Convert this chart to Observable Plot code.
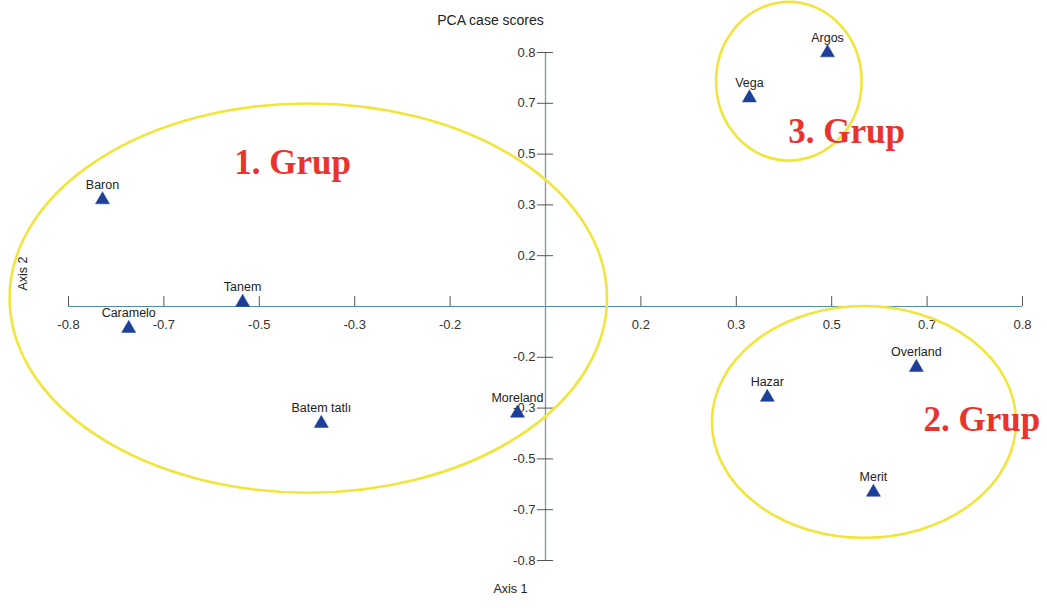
<!DOCTYPE html>
<html><head><meta charset="utf-8">
<script src="https://cdn.jsdelivr.net/npm/d3@7"></script>
<script src="https://cdn.jsdelivr.net/npm/@observablehq/plot@0.6"></script>
<style>body{margin:0;background:#fff} svg{display:block}</style>
</head><body><div id="chart"></div>
<script>
// Cultivars and their PCA case scores
const cultivars = ["Baron","Caramelo","Tanem","Batem tatlı","Moreland","Vega","Argos","Hazar","Overland","Merit"];
const axis1 = [-0.743,-0.699,-0.508,-0.376,-0.047,0.342,0.473,0.372,0.622,0.550];
const axis2 = [0.336,-0.069,0.013,-0.368,-0.336,0.657,0.799,-0.286,-0.192,-0.585];

// Tick positions and the labels printed by the original software
const xTicks = [-0.8,-0.64,-0.48,-0.32,-0.16,0.16,0.32,0.48,0.64,0.8];
const xTickLabels = ["-0.8","-0.7","-0.5","-0.3","-0.2","0.2","0.3","0.5","0.7","0.8"];
const yTicks = [-0.8,-0.64,-0.48,-0.32,-0.16,0.16,0.32,0.48,0.64,0.8];
const yTickLabels = ["-0.8","-0.7","-0.5","-0.3","-0.2","0.2","0.3","0.5","0.7","0.8"];

// Group annotations (ellipses and labels, in data units)
const groupNames = ["1. Grup","2. Grup","3. Grup"];
const groupCx = [-0.397, 0.535, 0.409];
const groupCy = [0.025, -0.365, 0.708];
const groupRx = [0.501, 0.255, 0.122];
const groupRy = [0.613, 0.365, 0.25];
const groupLabelX = [-0.424, 0.732, 0.505];
const groupLabelY = [0.453, -0.358, 0.550];

const points = cultivars.map((name, i) => ({name, x: axis1[i], y: axis2[i]}));
const groups = groupNames.map((name, i) => ({name, cx: groupCx[i], cy: groupCy[i], rx: groupRx[i], ry: groupRy[i], lx: groupLabelX[i], ly: groupLabelY[i]}));

function ellipseMark(data) {
  return (index, scales) => {
    const g = d3.create("svg:g");
    for (const e of data) {
      const cx = scales.x(e.cx), cy = scales.y(e.cy);
      g.append("ellipse")
        .attr("cx", cx).attr("cy", cy)
        .attr("rx", Math.abs(scales.x(e.cx + e.rx) - cx))
        .attr("ry", Math.abs(scales.y(e.cy + e.ry) - cy))
        .attr("fill", "none").attr("stroke", "#f1e53c").attr("stroke-width", 2.6);
    }
    return g.node();
  };
}

const font = "'Liberation Sans', Arial, sans-serif";

const chart = Plot.plot({
  width: 1047,
  height: 608,
  marginLeft: 68,
  marginRight: 25,
  marginTop: 52,
  marginBottom: 48,
  style: {fontFamily: font, background: "#fff", overflow: "visible"},
  x: {domain: [-0.8, 0.8], axis: null},
  y: {domain: [-0.8, 0.8], axis: null},
  marks: [
    // axes through the origin
    Plot.ruleY([0], {x1: -0.8, x2: 0.8, stroke: "#4f8eab", strokeWidth: 1.2}),
    Plot.ruleX([0], {y1: -0.8, y2: 0.8, stroke: "#8c9aa6", strokeWidth: 1.4}),
    Plot.ruleX(xTicks, {x: d => d, y1: 0, y2: 0.0315, stroke: "#555", strokeWidth: 1}),
    Plot.ruleY(yTicks, {y: d => d, x1: -0.0135, x2: 0.0135, stroke: "#555", strokeWidth: 1}),
    Plot.text(xTicks, {x: d => d, y: 0, text: (d, i) => xTickLabels[i], dy: 18, fontSize: 13, fill: "#333"}),
    Plot.text(yTicks, {x: 0, y: d => d, text: (d, i) => yTickLabels[i], dx: -10, textAnchor: "end", fontSize: 13, fill: "#333"}),
    // group ellipses
    ellipseMark(groups),
    // cultivar points
    Plot.dot(points, {x: "x", y: "y", symbol: "triangle", r: 5.2, fill: "#1d3f98", stroke: "#1d3f98", strokeWidth: 0.5}),
    Plot.text(points, {x: "x", y: "y", text: "name", dy: -15, fontSize: 12.5, fill: "#222"}),
    // group labels
    Plot.text(groups, {x: "lx", y: "ly", text: "name", fontSize: 35, fontWeight: "bold", fill: "#e8342c", fontFamily: "'Liberation Serif', 'Times New Roman', serif"}),
    // titles
    Plot.text(["PCA case scores"], {frameAnchor: "top", dx: -55, dy: -37, fontSize: 14, fill: "#222"}),
    Plot.text(["Axis 1"], {frameAnchor: "bottom", dx: -35, dy: 32, fontSize: 12.5, fill: "#222"}),
    Plot.text(["Axis 2"], {frameAnchor: "left", dx: -46, dy: -16, rotate: -90, fontSize: 12.5, fill: "#222"})
  ]
});
document.getElementById("chart").appendChild(chart);
</script>
</body></html>
